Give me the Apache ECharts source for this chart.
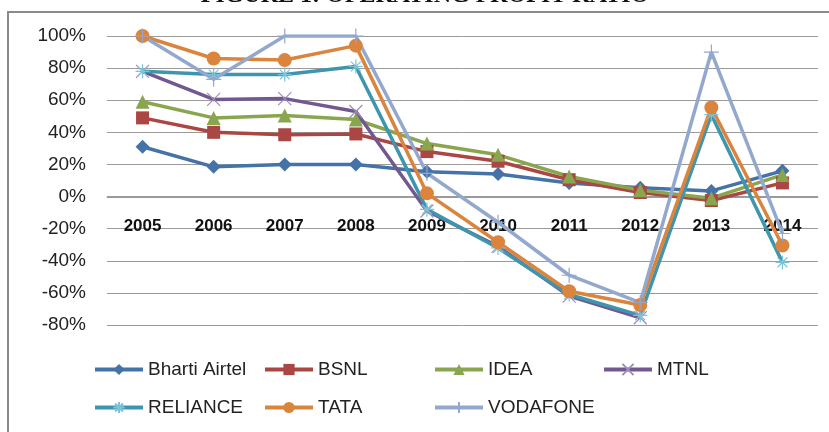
<!DOCTYPE html>
<html>
<head>
<meta charset="utf-8">
<script src="https://cdn.jsdelivr.net/npm/echarts@6/dist/echarts.min.js"></script>
<style>
  html, body { margin: 0; padding: 0; background: #fff; }
  #chart { width: 829px; height: 432px; }
</style>
</head>
<body>
<div id="chart"></div>
<script>
const years = ['2005', '2006', '2007', '2008', '2009', '2010', '2011', '2012', '2013', '2014'];
const bharti = [31, 18.5, 20, 20, 15.5, 14, 8.5, 5.5, 3.5, 16];
const bsnl = [49, 40, 38.5, 39, 28, 22, 10.5, 2.5, -2.5, 8.5];
const idea = [59, 49, 50.5, 48, 33, 26, 12.5, 4, -1, 13.5];
const mtnl = [78, 60.5, 61, 53, -9, -31, -62, -75.5, null, null];
const reliance = [78, 76, 76, 81, -8, -32, -61, -74, 51, -41];
const tata = [100, 86, 85, 94, 2, -28.5, -59, -67.5, 55.5, -30.5];
const vodafone = [100, 73, 100, 100, 14.5, -16, -49, -66, 90, -23];

const xMark = 'path://M0,0L10,10M10,0L0,10';
const starMark = 'path://M5,0L5,10M0,5L10,5M1.5,1.5L8.5,8.5M8.5,1.5L1.5,8.5';
const plusMark = 'path://M5,0L5,10M0,5L10,5';

function line(name, data, color, symbol, size, markColor) {
  const open = markColor !== undefined;
  return {
    name: name,
    type: 'line',
    data: data,
    symbol: symbol,
    symbolSize: size,
    lineStyle: { color: color, width: 3.5 },
    itemStyle: open
      ? { color: markColor, borderColor: markColor, borderWidth: 1.2 }
      : { color: color, borderWidth: 0 },
    emphasis: { disabled: true },
    animation: false
  };
}

const legendText = { fontFamily: 'Liberation Sans', fontSize: 19, color: '#222' };
function col(left, names) {
  return {
    orient: 'vertical', left: left, top: 360, itemGap: 19, padding: 0,
    itemWidth: 48, itemHeight: 14, textStyle: legendText,
    lineStyle: { width: 4 },
    data: names, selectedMode: false
  };
}

const chart = echarts.init(document.getElementById('chart'));
chart.setOption({
  color: ['#4572A7', '#AA4643', '#89A54E', '#71588F', '#3D96AE', '#DB843D', '#92A8CD'],
  graphic: [
    { type: 'rect', shape: { x: 8, y: 12, width: 900, height: 500 },
      style: { fill: 'none', stroke: '#8a8a8a', lineWidth: 2 } },
    { type: 'text', x: 425, y: 8,
      style: { text: 'FIGURE 1: OPERATING PROFIT RATIO', font: 'bold 24px "Liberation Serif"',
        fill: '#111', align: 'center', verticalAlign: 'bottom' } }
  ],
  legend: [
    col(93, ['Bharti Airtel', 'RELIANCE']),
    col(263, ['BSNL', 'TATA']),
    col(433, ['IDEA', 'VODAFONE']),
    col(602, ['MTNL'])
  ],
  grid: { left: 107, right: 11, top: 36, bottom: 107 },
  xAxis: {
    type: 'category',
    data: years,
    boundaryGap: true,
    offset: -128,
    axisLine: { show: true, onZero: false, lineStyle: { color: '#9a9a9a', width: 1 } },
    axisTick: { show: false },
    axisLabel: { margin: 21, fontFamily: 'Liberation Sans', fontWeight: 'bold', fontSize: 17, color: '#111' }
  },
  yAxis: {
    type: 'value',
    min: -80, max: 100, interval: 20,
    axisLine: { show: false },
    axisTick: { show: false },
    splitLine: { lineStyle: { color: '#9a9a9a', width: 1 } },
    axisLabel: { formatter: '{value}%', margin: 21, fontFamily: 'Liberation Sans', fontSize: 19, color: '#222' }
  },
  series: [
    line('Bharti Airtel', bharti, '#4572A7', 'diamond', 14),
    line('BSNL', bsnl, '#AA4643', 'rect', 13),
    line('IDEA', idea, '#89A54E', 'triangle', 14),
    line('MTNL', mtnl, '#71588F', xMark, 13, '#9d8cbd'),
    line('RELIANCE', reliance, '#3D96AE', starMark, 14, '#7cc3d8'),
    line('TATA', tata, '#DB843D', 'circle', 14),
    line('VODAFONE', vodafone, '#92A8CD', plusMark, 15, '#92A8CD')
  ]
});
</script>
</body>
</html>
